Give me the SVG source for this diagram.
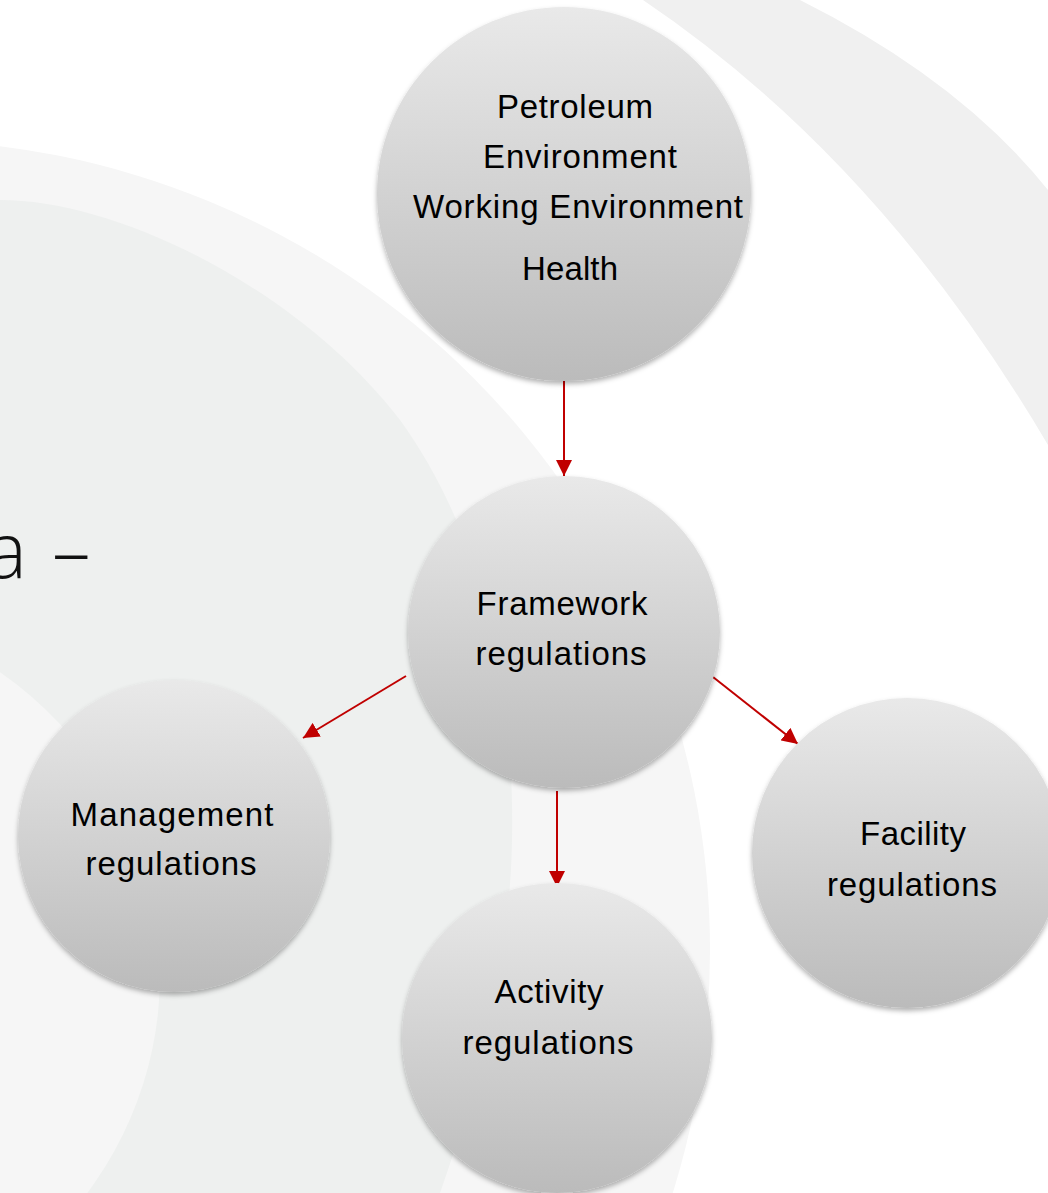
<svg xmlns="http://www.w3.org/2000/svg" width="1048" height="1193" viewBox="0 0 1048 1193">
  <defs>
    <linearGradient id="ballFill" x1="0" y1="0" x2="0" y2="1">
      <stop offset="0" stop-color="#e9e9e9"/>
      <stop offset="1" stop-color="#bbbbbb"/>
    </linearGradient>
    <filter id="shadow" x="-20%" y="-20%" width="140%" height="140%">
      <feDropShadow dx="0" dy="3" stdDeviation="2.5" flood-color="#000" flood-opacity="0.3"/>
    </filter>
    <marker id="arrow" markerUnits="userSpaceOnUse" viewBox="0 0 16 16" markerWidth="16" markerHeight="16" refX="16" refY="8" orient="auto">
      <path d="M0,0 L16,8 L0,16 Z" fill="#c00000"/>
    </marker>
    <style>
      .ball { fill: url(#ballFill); filter: url(#shadow); }
      .label { font-family: "Liberation Sans", Arial, sans-serif; font-size: 33px; fill: #000; text-anchor: middle; }
      .conn { stroke: #c00000; stroke-width: 2; fill: none; marker-end: url(#arrow); }
      .title { font-family: "Open Sans", "DejaVu Sans", sans-serif; font-weight: 300; font-size: 77px; fill: #111; }
    </style>
  </defs>

  <!-- background -->
  <rect x="0" y="0" width="1048" height="1193" fill="#ffffff"/>
  <path d="M643,0 L800,0 Q960,80 1048,190 L1048,445 Q880,160 643,0 Z" fill="#f0f0f0"/>
  <circle cx="-100" cy="950" r="810" fill="#f6f6f6"/>
  <path d="M0,200 C120,200 300,290 400,420 C480,530 515,680 512,840 C510,960 480,1080 440,1193 L0,1193 Z" fill="#eef0ef"/>
  <ellipse cx="-230" cy="975" rx="390" ry="375" fill="#f6f6f6"/>

  <text class="title"><tspan x="-14" y="578">a</tspan><tspan x="52" y="578">–</tspan></text>

  <g id="connectors">
    <line class="conn" x1="564" y1="381" x2="564" y2="476"/>
    <line class="conn" x1="406" y1="676" x2="303" y2="738"/>
    <line class="conn" x1="713" y1="677" x2="798" y2="744"/>
    <line class="conn" x1="557" y1="791" x2="557" y2="887"/>
  </g>

  <g id="node-petroleum">
    <circle class="ball" cx="564" cy="194" r="187"/>
    <text class="label" x="575" y="118" textLength="156" lengthAdjust="spacing">Petroleum</text>
    <text class="label" x="580" y="168" textLength="194" lengthAdjust="spacing">Environment</text>
    <text class="label" x="578" y="218" textLength="330" lengthAdjust="spacing">Working Environment</text>
    <text class="label" x="570" y="280" textLength="96" lengthAdjust="spacing">Health</text>
  </g>

  <g id="node-framework">
    <circle class="ball" cx="564" cy="632" r="156"/>
    <text class="label" x="562" y="615" textLength="171" lengthAdjust="spacing">Framework</text>
    <text class="label" x="561" y="665" textLength="171" lengthAdjust="spacing">regulations</text>
  </g>

  <g id="node-management">
    <circle class="ball" cx="174" cy="836" r="156"/>
    <text class="label" x="172" y="826" textLength="203" lengthAdjust="spacing">Management</text>
    <text class="label" x="171" y="875" textLength="171" lengthAdjust="spacing">regulations</text>
  </g>

  <g id="node-facility">
    <circle class="ball" cx="907" cy="853" r="155"/>
    <text class="label" x="913" y="845" textLength="106" lengthAdjust="spacing">Facility</text>
    <text class="label" x="912" y="896" textLength="170" lengthAdjust="spacing">regulations</text>
  </g>

  <g id="node-activity">
    <circle class="ball" cx="557" cy="1038" r="155"/>
    <text class="label" x="549" y="1003" textLength="109" lengthAdjust="spacing">Activity</text>
    <text class="label" x="548" y="1054" textLength="171" lengthAdjust="spacing">regulations</text>
  </g>
</svg>
